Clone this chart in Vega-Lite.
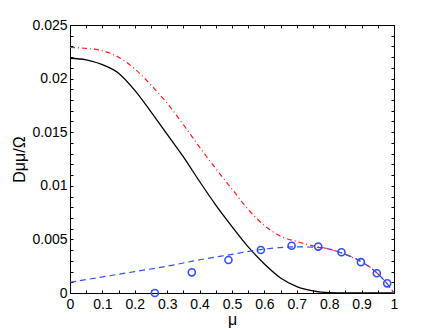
{
  "$schema": "https://vega.github.io/schema/vega-lite/v6.json",
  "width": 324,
  "height": 268,
  "autosize": "none",
  "padding": {"left": 70, "top": 25, "right": 42, "bottom": 37},
  "background": "white",
  "config": {
    "view": {"stroke": "black", "strokeWidth": 1},
    "font": "Liberation Sans",
    "axis": {"grid": false, "domainColor": "black", "tickColor": "black", "labelColor": "black", "titleColor": "black", "labelFont": "Liberation Sans", "titleFont": "Liberation Sans", "labelFontSize": 14, "titleFontSize": 16, "titleFontWeight": "normal", "tickSize": -3, "domainWidth": 1, "tickWidth": 1}
  },
  "datasets": {
    "curves": [
      {"series": "black", "mu": 0.0, "D": 0.0219},
      {"series": "black", "mu": 0.05, "D": 0.02175},
      {"series": "black", "mu": 0.1, "D": 0.0213},
      {"series": "black", "mu": 0.15, "D": 0.0205},
      {"series": "black", "mu": 0.2, "D": 0.0189},
      {"series": "black", "mu": 0.25, "D": 0.0169},
      {"series": "black", "mu": 0.3, "D": 0.0148},
      {"series": "black", "mu": 0.35, "D": 0.0127},
      {"series": "black", "mu": 0.4, "D": 0.0104},
      {"series": "black", "mu": 0.45, "D": 0.0082},
      {"series": "black", "mu": 0.5, "D": 0.0062},
      {"series": "black", "mu": 0.55, "D": 0.0043},
      {"series": "black", "mu": 0.6, "D": 0.0027},
      {"series": "black", "mu": 0.65, "D": 0.0014},
      {"series": "black", "mu": 0.7, "D": 0.0006},
      {"series": "black", "mu": 0.75, "D": 0.0002},
      {"series": "black", "mu": 0.8, "D": 0.00003},
      {"series": "black", "mu": 0.85, "D": 0.0},
      {"series": "black", "mu": 0.9, "D": 0.0},
      {"series": "black", "mu": 0.95, "D": 0.0},
      {"series": "black", "mu": 1.0, "D": 0.0},
      {"series": "red", "mu": 0.0, "D": 0.0229},
      {"series": "red", "mu": 0.05, "D": 0.02282},
      {"series": "red", "mu": 0.1, "D": 0.0226},
      {"series": "red", "mu": 0.15, "D": 0.0220},
      {"series": "red", "mu": 0.2, "D": 0.0209},
      {"series": "red", "mu": 0.25, "D": 0.0194},
      {"series": "red", "mu": 0.3, "D": 0.0177},
      {"series": "red", "mu": 0.35, "D": 0.0157},
      {"series": "red", "mu": 0.4, "D": 0.0136},
      {"series": "red", "mu": 0.45, "D": 0.0116},
      {"series": "red", "mu": 0.5, "D": 0.0097},
      {"series": "red", "mu": 0.55, "D": 0.0078},
      {"series": "red", "mu": 0.6, "D": 0.0063},
      {"series": "red", "mu": 0.65, "D": 0.0053},
      {"series": "red", "mu": 0.7, "D": 0.0048},
      {"series": "red", "mu": 0.75, "D": 0.0044},
      {"series": "red", "mu": 0.8, "D": 0.0041},
      {"series": "red", "mu": 0.85, "D": 0.0036},
      {"series": "red", "mu": 0.9, "D": 0.0029},
      {"series": "red", "mu": 0.95, "D": 0.0018},
      {"series": "red", "mu": 0.975, "D": 0.0010},
      {"series": "red", "mu": 1.0, "D": 0.0},
      {"series": "blue", "mu": 0.0, "D": 0.0010},
      {"series": "blue", "mu": 0.1, "D": 0.0015},
      {"series": "blue", "mu": 0.2, "D": 0.0020},
      {"series": "blue", "mu": 0.3, "D": 0.0025},
      {"series": "blue", "mu": 0.4, "D": 0.0031},
      {"series": "blue", "mu": 0.5, "D": 0.0036},
      {"series": "blue", "mu": 0.6, "D": 0.0041},
      {"series": "blue", "mu": 0.7, "D": 0.0043},
      {"series": "blue", "mu": 0.75, "D": 0.00428},
      {"series": "blue", "mu": 0.8, "D": 0.0041},
      {"series": "blue", "mu": 0.85, "D": 0.0036},
      {"series": "blue", "mu": 0.9, "D": 0.0029},
      {"series": "blue", "mu": 0.95, "D": 0.0018},
      {"series": "blue", "mu": 0.975, "D": 0.0010},
      {"series": "blue", "mu": 1.0, "D": 0.0}
    ],
    "points": [
      {"mu": 0.262, "D": 0.0},
      {"mu": 0.376, "D": 0.00193},
      {"mu": 0.489, "D": 0.00308},
      {"mu": 0.589, "D": 0.00401},
      {"mu": 0.684, "D": 0.00441},
      {"mu": 0.766, "D": 0.00433},
      {"mu": 0.838, "D": 0.0038},
      {"mu": 0.898, "D": 0.00288},
      {"mu": 0.947, "D": 0.00184},
      {"mu": 0.979, "D": 0.0009}
    ]
  },
  "layer": [
    {
      "data": {"name": "curves"},
      "transform": [{"filter": "datum.series == 'black'"}],
      "mark": {"type": "line", "color": "black", "strokeWidth": 1.3, "clip": true, "interpolate": "monotone"},
      "encoding": {
        "x": {"field": "mu", "type": "quantitative", "scale": {"domain": [0, 1], "nice": false, "zero": false},
          "axis": {"orient": "bottom", "title": "μ", "titlePadding": 0, "values": [0,0.05,0.1,0.15,0.2,0.25,0.3,0.35,0.4,0.45,0.5,0.55,0.6,0.65,0.7,0.75,0.8,0.85,0.9,0.95,1], "labelExpr": "abs(round(datum.value*20)) % 2 == 0 ? format(datum.value, '~g') : ''", "labelPadding": 7, "labelFlush": false, "labelOverlap": false}},
        "y": {"field": "D", "type": "quantitative", "scale": {"domain": [0, 0.025], "nice": false},
          "axis": {"orient": "left", "title": "Dμμ/Ω", "titlePadding": 4, "values": [0,0.001,0.002,0.003,0.004,0.005,0.006,0.007,0.008,0.009,0.01,0.011,0.012,0.013,0.014,0.015,0.016,0.017,0.018,0.019,0.02,0.021,0.022,0.023,0.024,0.025], "labelExpr": "round(datum.value*1000) % 5 == 0 ? format(datum.value, '~g') : ''", "labelPadding": 6, "labelFlush": false, "labelOverlap": false}}
      }
    },
    {
      "data": {"name": "curves"},
      "transform": [{"filter": "datum.series == 'red'"}],
      "mark": {"type": "line", "color": "#ff1a1a", "strokeWidth": 1.2, "strokeDash": [5, 3, 1, 3], "clip": true, "interpolate": "monotone"},
      "encoding": {
        "x": {"field": "mu", "type": "quantitative",
          "axis": {"orient": "top", "title": null, "labels": false, "values": [0,0.05,0.1,0.15,0.2,0.25,0.3,0.35,0.4,0.45,0.5,0.55,0.6,0.65,0.7,0.75,0.8,0.85,0.9,0.95,1]}},
        "y": {"field": "D", "type": "quantitative",
          "axis": {"orient": "right", "title": null, "labels": false, "values": [0,0.001,0.002,0.003,0.004,0.005,0.006,0.007,0.008,0.009,0.01,0.011,0.012,0.013,0.014,0.015,0.016,0.017,0.018,0.019,0.02,0.021,0.022,0.023,0.024,0.025]}}
      }
    },
    {
      "data": {"name": "curves"},
      "transform": [{"filter": "datum.series == 'blue'"}],
      "mark": {"type": "line", "color": "#3050f5", "strokeWidth": 1.2, "strokeDash": [6, 4], "clip": true, "interpolate": "monotone"},
      "encoding": {
        "x": {"field": "mu", "type": "quantitative", "axis": null},
        "y": {"field": "D", "type": "quantitative", "axis": null}
      }
    },
    {
      "data": {"name": "points"},
      "mark": {"type": "point", "shape": "circle", "filled": false, "color": "#2f4ff5", "strokeWidth": 1.6, "size": 50, "opacity": 1, "clip": false},
      "encoding": {
        "x": {"field": "mu", "type": "quantitative", "axis": null},
        "y": {"field": "D", "type": "quantitative", "axis": null}
      }
    }
  ]
}
